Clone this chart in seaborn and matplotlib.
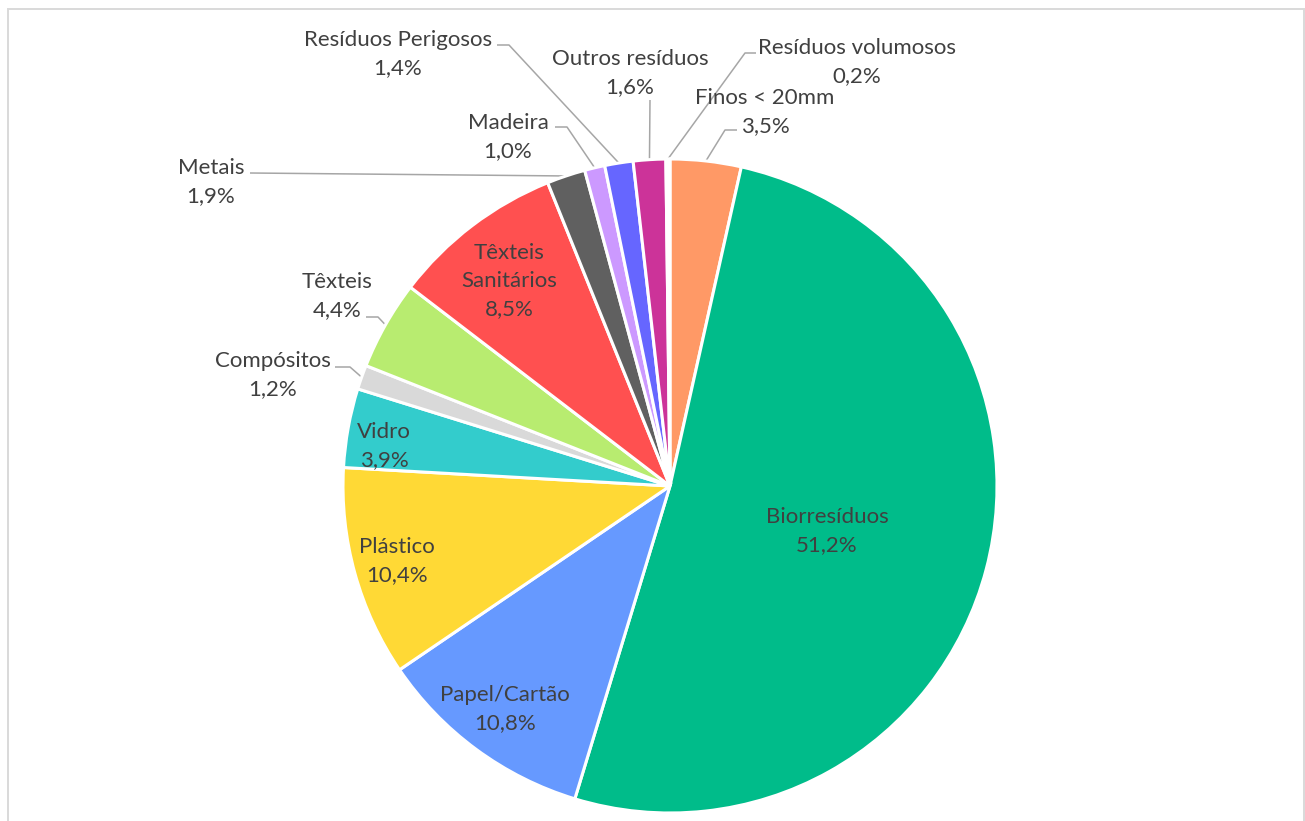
import numpy as np
import matplotlib
matplotlib.use("Agg")
import matplotlib.pyplot as plt
import matplotlib.patches as mpatches
import seaborn as sns

# Waste composition (share of total, %), clockwise from 12 o'clock
categories = ["Finos < 20mm", "Biorresíduos", "Papel/Cartão", "Plástico", "Vidro",
              "Compósitos", "Têxteis", "Têxteis\nSanitários", "Metais", "Madeira",
              "Resíduos Perigosos", "Outros resíduos", "Resíduos volumosos"]
shares = [3.5, 51.2, 10.8, 10.4, 3.9, 1.2, 4.4, 8.5, 1.9, 1.0, 1.4, 1.6, 0.2]
colors = ["#FF9966", "#00BC8A", "#6699FF", "#FFD935", "#33CCCC", "#D9D9D9",
          "#B8EC70", "#FF5050", "#606060", "#CC99FF", "#6666FF", "#CC3399", "#FFFFFF"]

W, H = 1305, 821
CX, CY, R = 670, 486, 327
TEXT = "#404040"
LEADER = "#A6A6A6"

sns.set_theme(style="white")
plt.rcParams["font.family"] = ["Lato", "DejaVu Sans"]

fig = plt.figure(figsize=(W / 100, H / 100), dpi=100)
ax = fig.add_axes([0, 0, 1, 1])


def py(y):
    """Top-down pixel row to data y."""
    return H - y


wedges, _ = ax.pie(shares, colors=colors, startangle=90, counterclock=False,
                   center=(CX, py(CY)), radius=R,
                   wedgeprops=dict(edgecolor="white", linewidth=2.2))
ax.set_xlim(0, W)
ax.set_ylim(0, H)
ax.set_aspect("equal")
ax.axis("off")


def pct(v):
    return f"{v:.1f}".replace(".", ",") + "%"


# label centre (px) and leader elbow points (px) for each slice
label_pos = [(765, 112), (827, 531), (505, 709), (397, 561), (384, 446),
             (273, 375), (337, 296), (509, 281), (211, 182), (508, 137),
             (398, 54), (630, 73), (857, 62)]
leaders = [[(737, 130), (725, 130)], None, None, None, None,
           [(335, 367), (350, 367)], [(366, 317), (378, 317)], None,
           [(250, 173)], [(555, 127), (567, 127)],
           [(497, 45), (509, 45)], [(650, 100)], [(756, 53), (745, 53)]]

cum = np.cumsum([0] + shares[:-1])
total = sum(shares)
for i, (name, v) in enumerate(zip(categories, shares)):
    x, y = label_pos[i]
    ax.text(x, py(y), f"{name}\n{pct(v)}", ha="center", va="center",
            fontsize=16, color=TEXT, linespacing=1.53)
    if leaders[i] is not None:
        ang = np.deg2rad((cum[i] + v / 2) / total * 360)
        ex, ey = CX + R * np.sin(ang), CY - R * np.cos(ang)
        pts = leaders[i] + [(ex, ey)]
        ax.plot([p[0] for p in pts], [py(p[1]) for p in pts],
                color=LEADER, lw=1.1, solid_capstyle="butt", zorder=0.5)

# chart-area frame
fig.patches.append(mpatches.Rectangle((7.5 / W, -0.1), (W - 8.5) / W, 1.1 - 9.5 / H,
                                      transform=fig.transFigure, fill=False,
                                      edgecolor="#D9D9D9", linewidth=1.4))

fig.savefig("out.png", dpi=100)
